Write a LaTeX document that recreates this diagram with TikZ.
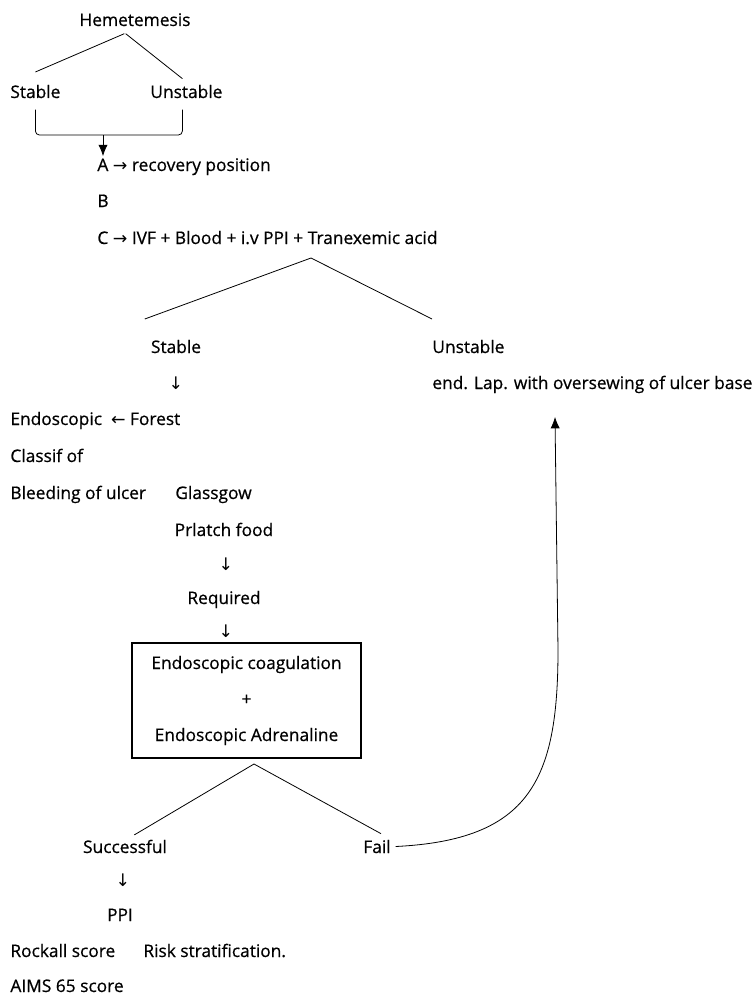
\documentclass[tikz,border=0pt]{standalone}
\usepackage{fontspec}
\setmainfont{Open Sans}[FakeBold=0.6]
\newfontfamily\arrowfont{DejaVu Sans}
\usetikzlibrary{arrows.meta,positioning}
\newcommand{\rarrow}{{\arrowfont →}}
\newcommand{\larrow}{{\arrowfont ←}}
\newcommand{\darrow}{{\arrowfont ↓}}

\begin{document}
\begin{tikzpicture}[x=0.75pt,y=-0.75pt,>={Latex[length=8.5pt,width=7pt]},line width=0.6pt,
    every node/.style={font=\fontsize{13}{16}\selectfont},
    txt/.style={anchor=base west,inner xsep=0pt},
    mid/.style={anchor=base},
    stepbox/.style={draw,line width=1pt,minimum width=171.75pt,
        minimum height=86.25pt,align=center,font=\fontsize{13}{27}\selectfont}]
    \useasboundingbox (0,0) rectangle (756,999);

    % first split
    \node[mid] (hem) at (135,26) {Hemetemesis};
    \node[txt] (st1) at (10,98) {Stable};
    \node[txt] (unst1) at (150,98) {Unstable};
    \draw ([xshift=-8pt,yshift=-2pt]hem.south) -- ([yshift=6pt]st1.north);
    \draw ([xshift=-7pt,yshift=-2pt]hem.south) -- ([xshift=-3pt,yshift=1pt]unst1.north);
    \coordinate (join) at (103,135);
    \draw[rounded corners=3pt] ([yshift=-5pt]st1.south) |- (join) -| ([xshift=-3pt,yshift=-5pt]unst1.south);

    % resuscitation
    \node[txt] (stepA) at (97,171) {A \rarrow\ recovery position};
    \node[txt] (stepB) at (97,207) {B};
    \node[txt] (stepC) at (97,244) {C \rarrow\ IVF + Blood + i.v PPI + Tranexemic acid};
    \draw[->] (join) -- ([yshift=-2pt]join |- stepA.north);

    % second split
    \coordinate (split1) at (311,258);
    \node[mid] (stab2) at (176,353) {Stable};
    \node[txt] (unst2) at (432,353) {Unstable};
    \draw (split1) -- ([xshift=-1pt,yshift=12pt]stab2.north west);
    \draw (split1) -- ([yshift=12pt]unst2.north west);
    \node[mid] (down1) at (176,389) {\darrow};
    \node[txt] (lap) at (432,389) {end. Lap. with oversewing of ulcer base};

    % scoring
    \node[txt] (endo) at (10,425) {Endoscopic\ \ \larrow\ Forest};
    \node[txt] (classif) at (10,462) {Classif of};
    \node[txt] (bleed) at (10,499) {Bleeding of ulcer};
    \node[txt] (glas) at (175,499) {Glassgow};
    \node[mid] (food) at (224,536) {Prlatch food};
    \node[mid] (down2) at (226,570) {\darrow};
    \node[mid] (req) at (224,604) {Required};
    \node[mid] (down3) at (226,637) {\darrow};

    % treatment
    \node[stepbox] (treat) at (246.5,700.5)
        {Endoscopic coagulation\\+\\Endoscopic Adrenaline};
    \coordinate (split2) at (254,764);
    \node[mid] (succ) at (125,853) {Successful};
    \node[mid] (fail) at (377,853) {Fail};
    \draw (split2) -- ([xshift=7pt]succ.north);
    \draw (split2) -- ([xshift=3pt,yshift=1pt]fail.north);
    \coordinate (lapin) at (555,417);
    \draw[->] (fail.east) .. controls (530,840) and (558,780) .. (558,650) -- (lapin);

    % follow up
    \node[mid] (down4) at (123,886) {\darrow};
    \node[mid] (ppi) at (120,921) {PPI};
    \node[txt] (rock) at (10,957) {Rockall score};
    \node[txt] (risk) at (143,957) {Risk stratification.};
    \node[txt] (aims) at (10,992) {AIMS 65 score};
\end{tikzpicture}
\end{document}
